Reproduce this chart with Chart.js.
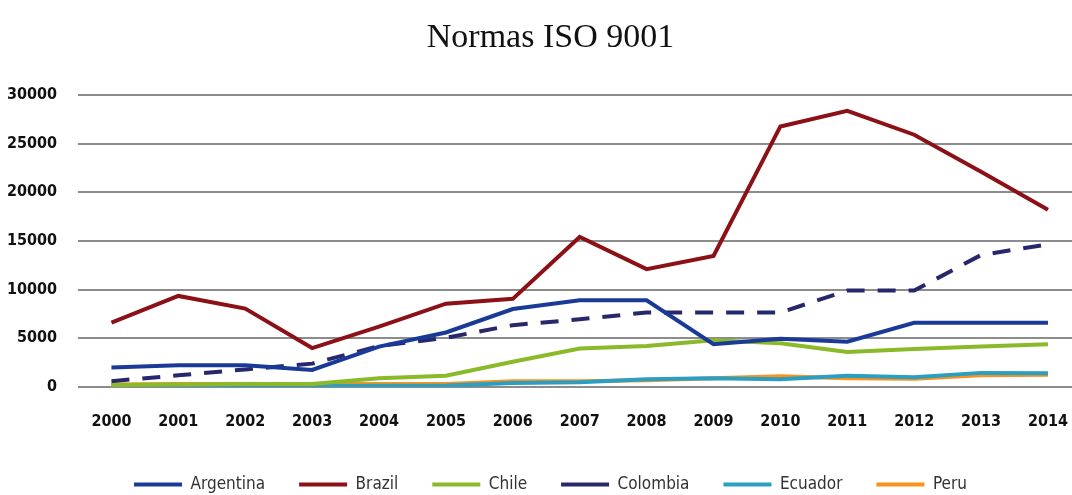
<!DOCTYPE html>
<html>
<head>
<meta charset="utf-8">
<script src="https://cdn.jsdelivr.net/npm/chart.js@4"></script>
<style>
  html, body { margin: 0; padding: 0; background: #ffffff; overflow: hidden; }
  #wrap { width: 1093px; height: 495px; }
</style>
</head>
<body>
<div id="wrap"><canvas id="c"></canvas></div>
<script>
// Certificados ISO 9001 por país, 2000–2014
const years = ['2000','2001','2002','2003','2004','2005','2006','2007','2008','2009','2010','2011','2012','2013','2014'];

const argentina = [2000, 2230, 2230, 1750, 4150, 5600, 8000, 8900, 8900, 4400, 4950, 4650, 6600, 6600, 6600];
const brazil    = [6600, 9350, 8050, 4000, 6200, 8550, 9050, 15400, 12100, 13450, 26750, 28350, 25900, 22100, 18200];
const chile     = [200, 250, 300, 300, 900, 1150, 2600, 3950, 4200, 4800, 4500, 3600, 3900, 4150, 4400];
const colombia  = [600, 1200, 1800, 2400, 4200, 5050, 6350, 6950, 7650, 7650, 7650, 9900, 9900, 13550, 14650];
const ecuador   = [50, 60, 80, 100, 120, 150, 400, 500, 800, 900, 800, 1150, 1000, 1450, 1400];
const peru      = [250, 300, 300, 300, 300, 300, 600, 600, 700, 900, 1100, 900, 850, 1200, 1250];

const yTicks = [0, 5000, 10000, 15000, 20000, 25000, 30000];

const tickFont = { family: '"DejaVu Sans Condensed", "Liberation Sans", sans-serif', size: 16, weight: 'bold' };

function series(label, data, color, dash) {
  return {
    label, data,
    borderColor: color,
    backgroundColor: color,
    borderWidth: 4,
    borderDash: dash || [],
    pointRadius: 0,
    pointHoverRadius: 0,
    tension: 0,
    fill: false
  };
}

new Chart(document.getElementById('c'), {
  type: 'line',
  data: {
    labels: years,
    datasets: [
      series('Argentina', argentina, '#1a3a98'),
      series('Brazil', brazil, '#8c1116'),
      series('Chile', chile, '#8aba2a'),
      series('Colombia', colombia, '#27286c', [18, 13]),
      series('Ecuador', ecuador, '#2c9ec2'),
      series('Peru', peru, '#f7931e')
    ]
  },
  options: {
    responsive: true,
    maintainAspectRatio: false,
    animation: false,
    layout: { padding: { left: 8, right: 0, top: 0, bottom: -8 } },
    plugins: {
      title: {
        display: true,
        text: 'Normas ISO 9001',
        color: '#111111',
        font: { family: '"Liberation Serif", "DejaVu Serif", serif', size: 34, weight: 'normal' },
        padding: { top: 18, bottom: 36 }
      },
      legend: {
        position: 'bottom',
        labels: {
          usePointStyle: true,
          pointStyle: 'line',
          pointStyleWidth: 48,
          boxHeight: 4,
          padding: 34,
          color: '#333333',
          font: { family: '"DejaVu Sans Condensed", "Liberation Sans", sans-serif', size: 17 }
        }
      },
      tooltip: { enabled: false }
    },
    scales: {
      x: {
        offset: true,
        grid: { display: false, drawTicks: false },
        border: { display: false },
        ticks: { color: '#111111', font: tickFont, padding: 25, maxRotation: 0 },
        afterFit: (axis) => { axis.height = 55; }
      },
      y: {
        min: 0,
        max: 30000,
        afterBuildTicks: (axis) => { axis.ticks = yTicks.map(v => ({ value: v })); },
        grid: { color: '#8c8c8c', lineWidth: 2, drawTicks: false },
        border: { display: false },
        ticks: { color: '#111111', font: tickFont, padding: 21, callback: (v) => String(v) },
        afterFit: (axis) => { axis.width = 70; }
      }
    }
  }
});
</script>
</body>
</html>
